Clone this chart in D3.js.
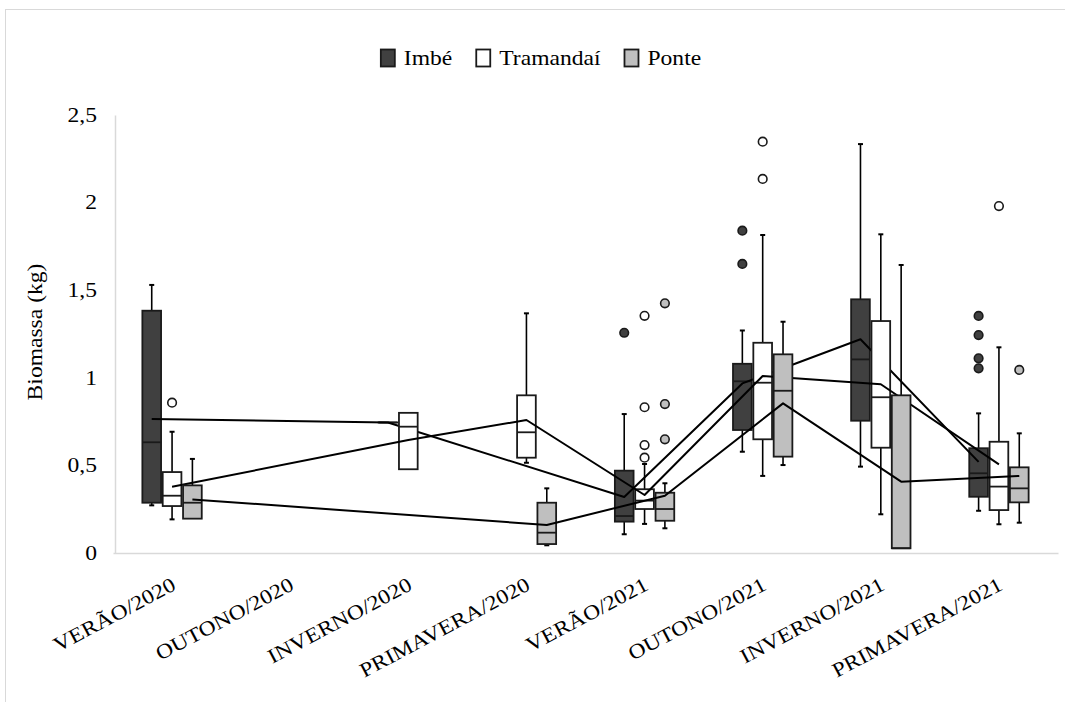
<!DOCTYPE html>
<html>
<head>
<meta charset="utf-8">
<script src="https://cdn.jsdelivr.net/npm/d3@7"></script>
<style>
  html, body { margin: 0; padding: 0; background: #fff; }
  svg text { font-family: "Liberation Serif", "Times New Roman", Times, serif !important; }
</style>
</head>
<body>
<svg id="chart" width="1065" height="702"></svg>
<script>
// Seasons along the x axis
const seasons = ["VERÃO/2020", "OUTONO/2020", "INVERNO/2020", "PRIMAVERA/2020",
                 "VERÃO/2021", "OUTONO/2021", "INVERNO/2021", "PRIMAVERA/2021"];
const siteNames = ["Imbé", "Tramandaí", "Ponte"];
const siteFills = ["#404040", "#ffffff", "#bfbfbf"];

// Box statistics per season: [lower whisker, Q1, median, Q3, upper whisker, mean]; null = no sample
const imbeStats = [
  [0.272, 0.287, 0.632, 1.383, 1.530, 0.765],
  null,
  [0.745, 0.745, 0.745, 0.745, 0.745, 0.745],
  null,
  [0.107, 0.179, 0.211, 0.470, 0.793, 0.320],
  [0.578, 0.702, 0.980, 1.080, 1.270, 0.968],
  [0.493, 0.755, 1.105, 1.448, 2.334, 1.220],
  [0.241, 0.321, 0.455, 0.598, 0.797, 0.520]
];
const tramandaiStats = [
  [0.192, 0.268, 0.327, 0.462, 0.692, 0.378],
  null,
  [0.478, 0.478, 0.721, 0.800, 0.800, 0.645],
  [0.515, 0.544, 0.689, 0.900, 1.368, 0.759],
  [0.166, 0.251, 0.299, 0.364, 0.508, 0.331],
  [0.440, 0.649, 0.972, 1.200, 1.815, 1.010],
  [0.221, 0.601, 0.889, 1.324, 1.819, 0.963],
  [0.164, 0.245, 0.379, 0.635, 1.174, 0.506]
];
const ponteStats = [
  [0.196, 0.196, 0.287, 0.386, 0.537, 0.306],
  null,
  null,
  [0.044, 0.051, 0.116, 0.287, 0.369, 0.160],
  [0.141, 0.184, 0.251, 0.344, 0.398, 0.327],
  [0.502, 0.550, 0.926, 1.134, 1.320, 0.854],
  [0.027, 0.027, 0.027, 0.900, 1.644, 0.407],
  [0.173, 0.289, 0.369, 0.489, 0.683, 0.440]
];

// Outliers per season
const imbeOutliers      = [[], [], [], [], [1.257], [1.65, 1.84], [], [1.054, 1.111, 1.244, 1.353]];
const tramandaiOutliers = [[0.858], [], [], [], [0.544, 0.616, 0.832, 1.354], [2.135, 2.348], [], [1.98]];
const ponteOutliers     = [[], [], [], [], [0.649, 0.85, 1.425], [], [], [1.045]];

const yTicks = [0, 0.5, 1, 1.5, 2, 2.5];

const allStats = [imbeStats, tramandaiStats, ponteStats];
const allOutliers = [imbeOutliers, tramandaiOutliers, ponteOutliers];

const FONT = "'Liberation Serif', 'Times New Roman', serif";
const FS = 20.5;      // font size
const WIDEN = 1.15;   // glyphs are drawn a little wide along the baseline
const svg = d3.select("#chart");

// Chart frame (runs off the right and bottom edges)
svg.append("rect")
  .attr("x", 5.5).attr("y", 9.5)
  .attr("width", 1100).attr("height", 720)
  .attr("fill", "#fff").attr("stroke", "#d9d9d9").attr("stroke-width", 1);

const plot = { left: 113, right: 1058, top: 115, bottom: 553 };

const x = d3.scaleBand().domain(seasons).range([plot.left, plot.right]).paddingInner(0).paddingOuter(0);
const xSite = d3.scaleBand().domain(siteNames).range([-30, 30]).paddingInner(0.05);
const y = d3.scaleLinear().domain([0, 2.5]).range([plot.bottom, plot.top]);

const fmt = v => String(v).replace(".", ",");

// Y axis line
const yAxis = svg.append("g")
  .attr("transform", `translate(${plot.left + 2},0)`)
  .call(d3.axisLeft(y).tickValues(yTicks).tickFormat("").tickSize(0));
yAxis.select(".domain").attr("stroke", "#d9d9d9").attr("stroke-width", 1.5);

// Y tick labels
svg.append("g").attr("font-family", FONT).selectAll("text")
  .data(yTicks)
  .join("text")
  .attr("transform", d => `translate(97,${y(d)}) scale(${WIDEN},1)`)
  .attr("dy", "0.33em")
  .attr("text-anchor", "end")
  .attr("font-size", FS)
  .attr("fill", "#000")
  .text(fmt);

// X axis line
const xAxis = svg.append("g")
  .attr("transform", `translate(0,${plot.bottom})`)
  .call(d3.axisBottom(x).tickSize(0).tickFormat(""));
xAxis.select(".domain").attr("stroke", "#d9d9d9").attr("stroke-width", 1.5);

// X tick labels, slanted
svg.append("g").attr("font-family", FONT).selectAll("text")
  .data(seasons)
  .join("text")
  .attr("transform", d => `translate(${x(d) + x.bandwidth() / 2 + 5},${plot.bottom + 36}) rotate(-28) scale(${WIDEN},1)`)
  .attr("text-anchor", "end")
  .attr("font-size", FS)
  .attr("fill", "#000")
  .text(d => d);

// Y axis title
svg.append("text")
  .attr("font-family", FONT)
  .attr("transform", `translate(42,332) rotate(-90) scale(${WIDEN},1)`)
  .attr("text-anchor", "middle")
  .attr("font-size", FS)
  .attr("fill", "#000")
  .text("Biomassa (kg)");

// Boxes, outliers and mean lines, one site after another
const boxW = 18.7;
const capW = 5;
siteNames.forEach((site, si) => {
  const g = svg.append("g");
  const stats = allStats[si];
  const cx = i => x(seasons[i]) + x.bandwidth() / 2 + xSite(site) + xSite.bandwidth() / 2;

  stats.forEach((s, i) => {
    if (!s) return;
    const [lo, q1, med, q3, hi] = s;
    const c = cx(i);
    // whiskers
    if (hi > q3) {
      g.append("line").attr("x1", c).attr("x2", c).attr("y1", y(q3)).attr("y2", y(hi))
        .attr("stroke", "#000").attr("stroke-width", 1.6);
      g.append("line").attr("x1", c - capW / 2).attr("x2", c + capW / 2).attr("y1", y(hi)).attr("y2", y(hi))
        .attr("stroke", "#000").attr("stroke-width", 2);
    }
    if (lo < q1) {
      g.append("line").attr("x1", c).attr("x2", c).attr("y1", y(q1)).attr("y2", y(lo))
        .attr("stroke", "#000").attr("stroke-width", 1.6);
      g.append("line").attr("x1", c - capW / 2).attr("x2", c + capW / 2).attr("y1", y(lo)).attr("y2", y(lo))
        .attr("stroke", "#000").attr("stroke-width", 2);
    }
    // box
    g.append("rect")
      .attr("x", c - boxW / 2).attr("width", boxW)
      .attr("y", y(q3)).attr("height", Math.max(0.01, y(q1) - y(q3)))
      .attr("fill", siteFills[si]).attr("stroke", "#1a1a1a").attr("stroke-width", 1.8);
    // median
    g.append("line").attr("x1", c - boxW / 2).attr("x2", c + boxW / 2)
      .attr("y1", y(med)).attr("y2", y(med))
      .attr("stroke", "#1a1a1a").attr("stroke-width", 1.8);
  });

  // outliers
  allOutliers[si].forEach((vals, i) => {
    vals.forEach(v => {
      g.append("circle").attr("cx", cx(i)).attr("cy", y(v)).attr("r", 4.3)
        .attr("fill", siteFills[si]).attr("stroke", "#1a1a1a").attr("stroke-width", 1.6);
    });
  });

  // mean line across seasons that have a sample
  const pts = stats.map((s, i) => s ? [cx(i), y(s[5])] : null).filter(p => p);
  g.append("path")
    .attr("d", d3.line()(pts))
    .attr("fill", "none").attr("stroke", "#000").attr("stroke-width", 2)
    .attr("stroke-linejoin", "round");
});

// Legend
const legend = svg.append("g").attr("font-family", FONT);
let lx = 0;
const gapText = 9, gapItem = 24;
siteNames.forEach((name, i) => {
  const it = legend.append("g");
  it.append("rect").attr("x", 0).attr("y", -8.5).attr("width", 14).attr("height", 17)
    .attr("fill", siteFills[i]).attr("stroke", "#1a1a1a").attr("stroke-width", 1.8);
  const t = it.append("text")
    .attr("transform", `translate(${14 + gapText},7) scale(${WIDEN},1)`)
    .attr("font-size", FS).attr("fill", "#000").text(name);
  const w = 14 + gapText + t.node().getComputedTextLength() * WIDEN;
  it.attr("transform", `translate(${lx},0)`);
  lx += w + gapItem;
});
const totalW = lx - gapItem;
legend.attr("transform", `translate(${541 - totalW / 2},58)`);
</script>
</body>
</html>
